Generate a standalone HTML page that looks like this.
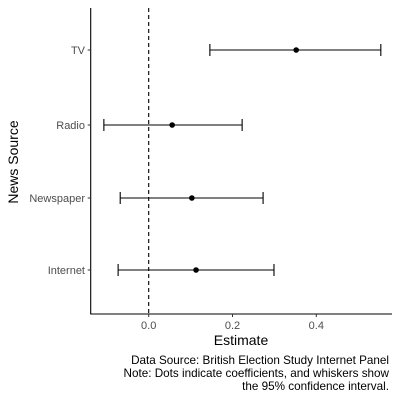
<!DOCTYPE html>
<html><head><meta charset="utf-8"><style>
body{margin:0;background:#fff;font-family:"Liberation Sans",Arial,sans-serif}
</style></head><body>
<svg width="400" height="400" xmlns="http://www.w3.org/2000/svg" font-family="Liberation Sans, Arial, sans-serif">
<g id="plot"></g>
<text x="241" y="345" font-size="14" text-anchor="middle" fill="#000">Estimate</text>
<text transform="translate(18,162) rotate(-90)" font-size="14" text-anchor="middle" fill="#000">News Source</text>
<g font-size="11.7" text-anchor="end" fill="#000">
<text x="389" y="364">Data Source: British Election Study Internet Panel</text>
<text x="389" y="377">Note: Dots indicate coefficients, and whiskers show</text>
<text x="389" y="390">the 95% confidence interval.</text>
</g>
</svg>
<script>
const categories = ["TV","Radio","Newspaper","Internet"];
const estimates = [0.352, 0.056, 0.103, 0.113];
const lower = [0.146, -0.107, -0.068, -0.073];
const upper = [0.554, 0.223, 0.273, 0.299];
const xTicks = [0.0, 0.2, 0.4];
const xTickLabels = ["0.0","0.2","0.4"];

const NS="http://www.w3.org/2000/svg";
const g=document.getElementById('plot');
const x=v=>148.7+v*419;
const catY=[50,125,198,270];
const y=i=>catY[i];
function mk(t,a){const e=document.createElementNS(NS,t);for(const k in a)e.setAttribute(k,a[k]);g.appendChild(e);return e;}
let e=mk('line',{x1:90.7,y1:8,x2:90.7,y2:314,stroke:'#000','stroke-width':1.1});


e=mk('line',{x1:90.2,y1:314,x2:392,y2:314,stroke:'#000','stroke-width':1.1});


e=mk('line',{x1:x(0),y1:8,x2:x(0),y2:314,stroke:'#000','stroke-width':1.1,'stroke-dasharray':'4,3'});


xTicks.forEach((v,i)=>{
  let t=mk('line',{x1:x(v),y1:314,x2:x(v),y2:317,stroke:'#333'});
  
  
  let l=mk('text',{x:x(v),y:329,'font-size':11,'text-anchor':'middle',fill:'#4d4d4d'});
  l.textContent=xTickLabels[i];
  
  
});
categories.forEach((c,i)=>{
  const yy=y(i);
  let t=mk('line',{x1:87.7,y1:yy,x2:90.7,y2:yy,stroke:'#333'});
  
  
  let l=mk('text',{x:85,y:yy+4,'font-size':11,'text-anchor':'end',fill:'#4d4d4d'});
  l.textContent=c;
  
  
  let w=mk('line',{x1:x(lower[i]),y1:yy,x2:x(upper[i]),y2:yy,stroke:'#000','stroke-width':1.1});
  
  
  [lower[i],upper[i]].forEach(v=>{
    let cap=mk('line',{x1:x(v),y1:yy-6,x2:x(v),y2:yy+6,stroke:'#000','stroke-width':1.1});
    
    
  });
  let p=mk('circle',{cx:x(estimates[i]),cy:yy,r:2.8,fill:'#000'});
  
  
});
</script>
</body></html>
